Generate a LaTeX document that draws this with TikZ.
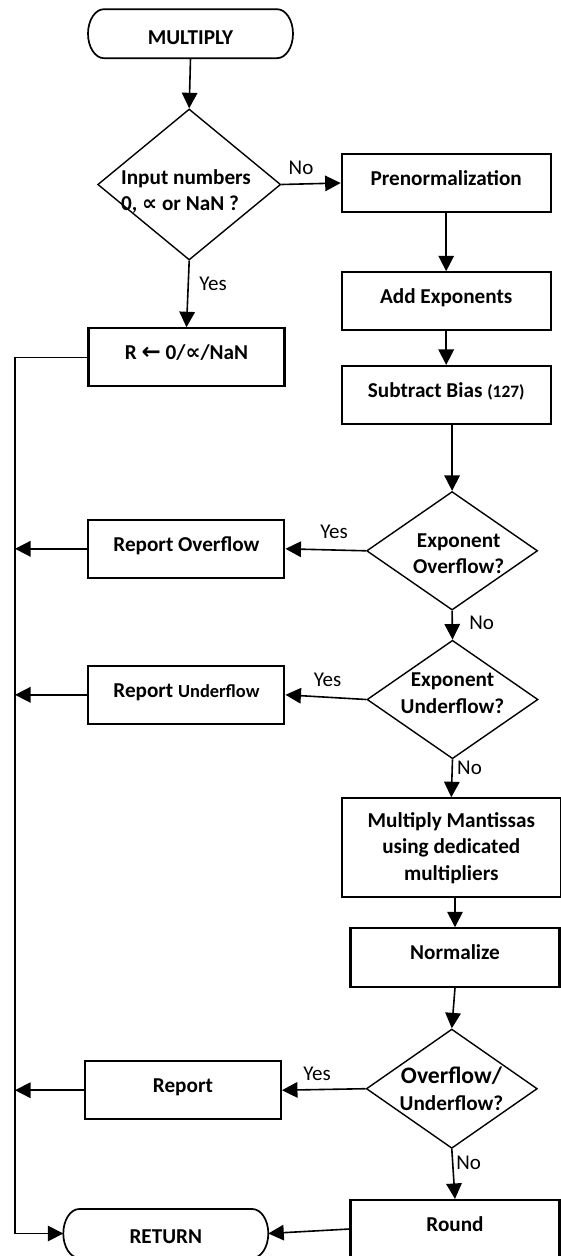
\documentclass[tikz,border=0pt]{standalone}
\usepackage{fontspec}
\setmainfont{Carlito}
\newfontfamily\symfont{DejaVu Sans}
\usetikzlibrary{arrows.meta,shapes.geometric}

% outline of a terminator (elliptic ends) around a named node
\newcommand\terminatorpath[1]{%
  \draw[termline] ([xshift=16pt]#1.north west) -- ([xshift=-16pt]#1.north east)
    arc[start angle=90,end angle=-90,x radius=16pt,y radius=24.5pt]
    -- ([xshift=16pt]#1.south west)
    arc[start angle=270,end angle=90,x radius=16pt,y radius=24.5pt] -- cycle;}

\begin{document}
\begin{tikzpicture}[x=1pt,y=-1pt,
  labelfont/.style={font=\fontsize{21}{26.5}\selectfont},
  boldfont/.style={font=\fontsize{21.2}{26.5}\selectfont\bfseries},
  procbox/.style={draw, rectangle, line width=2.1pt, minimum width=196pt,
    minimum height=58pt, inner sep=0pt, boldfont, text height=13pt, text depth=8.6pt},
  widebox/.style={procbox, minimum width=209pt},
  decision/.style={draw, diamond, line width=1.4pt, minimum width=171pt,
    minimum height=118.5pt, inner sep=0pt},
  dtext/.style={inner sep=0pt, align=center, anchor=base, boldfont},
  terminal/.style={rectangle, minimum width=205pt, minimum height=49pt,
    inner sep=0pt, outer sep=0pt, boldfont, text height=21pt, text depth=0.2pt},
  termline/.style={line width=1.7pt},
  flow/.style={line width=1.6pt, -{Triangle[length=15.5pt,width=15.5pt]}},
  yesno/.style={inner sep=0pt, anchor=base, labelfont},
]
\useasboundingbox (0,0) rectangle (560,1256);

% terminators
\node[terminal] (start) at (190.5,33.7) {MULTIPLY};
\terminatorpath{start}
\node[terminal] (ret) at (165.8,1233.5) {RETURN};
\terminatorpath{ret}

% decisions (the base of a multi-line text node is its last line)
\node[decision, minimum width=183pt, minimum height=151pt] (d1) at (189.2,184.5) {};
\node[dtext, anchor=base west, align=left] (d1t) at (121,210.5)
  {Input numbers\\0, {\symfont ∝} or NaN ?};

\node[decision] (d2) at (452.1,550.8) {};
\node[dtext] (d2t) at (458.7,573.9) {Exponent\\Overflow?};

\node[decision] (d3) at (452.5,699.5) {};
\node[dtext] (d3t) at (452.5,713.2) {Exponent\\Underflow?};

\node[decision, minimum height=119.3pt] (d4) at (451.8,1088.7) {};
\node[dtext] (d4t) at (451.5,1110.2)
  {{\fontsize{23.7}{26.5}\selectfont Overflow/}\\{\fontsize{21.2}{26.5}\selectfont Underflow?}};

% process boxes, right column
\node[widebox] (pre) at (446.2,183) {Prenormalization};
\node[widebox] (addx) at (446.2,301.3) {Add Exponents};
\node[widebox] (sub) at (446.2,395) {Subtract Bias {\fontsize{17.4}{20}\selectfont(127)}};
\node[draw, rectangle, line width=2.1pt, minimum width=219.3pt, minimum height=99pt,
  inner sep=0pt, align=center, boldfont] (mant) at (451.3,847.8)
  {Multiply Mantissas\\using dedicated\\multipliers};
\node[widebox, minimum height=58.4pt] (norm) at (455,957.5) {Normalize};
\node[widebox] (round) at (455,1229) {Round};

% process boxes, left column
\node[procbox] (rz) at (186.5,357.3)
  {R {\symfont\bfseries\fontsize{23}{26}\selectfont ←} 0/{\symfont ∝}/NaN\hspace{30pt}};
\node[procbox] (rov) at (186.4,548.8) {Report Overflow\hspace{7pt}};
\node[procbox] (run) at (186.4,694.8)
  {Report {\fontsize{18.4}{20}\selectfont Underflow}\hspace{7pt}};
\node[procbox] (rep) at (182.9,1090.2) {Report};

% return rail on the left
\coordinate (railx) at (15,0);
\coordinate (railtop) at (rz.west -| railx);
\coordinate (railbot) at (ret.west -| railx);

% connectors
\draw[flow] (start.south) -- (d1.north);
\draw[flow] (d1.east) -- (pre.west);
\draw[flow] (d1.south) -- (rz.north);
\draw[flow] (pre.south) -- (addx.north);
\draw[flow] (addx.south) -- (sub.north);
\draw[flow] (sub.south -| d2.north) -- (d2.north);
\draw[flow] (d2.west) -- (rov.east);
\draw[flow] (rov.west) -- (rov.west -| railx);
\draw[flow] (d2.south) -- (d3.north);
\draw[flow] (d3.west) -- (run.east);
\draw[flow] (run.west) -- (run.west -| railx);
\draw[flow] (d3.south) -- (mant.north);
\draw[flow] (mant.south -| norm.north) -- (norm.north);
\draw[flow] (norm.south) -- (d4.north);
\draw[flow] (d4.west) -- (rep.east);
\draw[flow] (rep.west) -- (rep.west -| railx);
\draw[flow] (d4.south) -- (round.north);
\draw[flow] (round.west) -- (ret.east);
\draw[flow] (rz.west) -- (railtop) -- (railbot) -- (ret.west);

% branch labels
\node[yesno] (no1) at (301,174.8) {No};
\node[yesno] (yes1) at (213,290.5) {Yes};
\node[yesno] (yes2) at (334,538.8) {Yes};
\node[yesno] (no2) at (481.7,629.8) {No};
\node[yesno] (yes3) at (327.5,686.5) {Yes};
\node[yesno] (no3) at (469.5,774.8) {No};
\node[yesno] (yes4) at (317,1080.5) {Yes};
\node[yesno] (no4) at (468.7,1169.8) {No};
\end{tikzpicture}
\end{document}
